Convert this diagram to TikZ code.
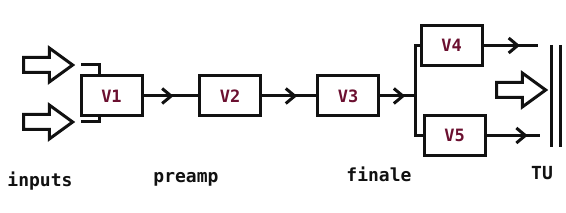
\documentclass[tikz,border=0pt]{standalone}
\usepackage{fontspec}
\setmonofont{DejaVu Sans Mono}
\usetikzlibrary{arrows.meta,calc,shapes.arrows,decorations.markings}
\definecolor{ink}{HTML}{111111}
\definecolor{maroon}{HTML}{6B1030}
\tikzset{
  stage/.style={draw=ink,line width=3pt,minimum width=61pt,minimum height=40pt,inner sep=0pt,
                font=\ttfamily\bfseries\fontsize{17}{18}\selectfont,text=maroon},
  signal/.style={single arrow,draw=ink,line width=3pt,inner xsep=0pt,inner ysep=6pt,
                 minimum height=49pt,single arrow head extend=9.5pt,single arrow tip angle=72,
                 single arrow head indent=0pt},
  wire/.style={draw=ink,line width=3pt},
  midarrow/.style={wire,postaction={decorate},
                   decoration={markings,mark=at position #1 with {\arrow{Straight Barb[length=9pt,width=15pt]}}}},
  caption/.style={anchor=base,font=\ttfamily\bfseries\fontsize{18}{20}\selectfont,text=ink},
  plate/.style={draw=ink,line width=3pt}
}
\begin{document}
\begin{tikzpicture}[x=1pt,y=-1pt]
    \useasboundingbox[fill=white] (0,0) rectangle (566,213);
    % input signals
    \node[signal] (in1) at (43,65) {};
    \node[signal] (in2) at (43,122) {};
    % amplifier stages
    \node[stage] (V1) at (111.5,96) {V1};
    \node[stage] (V2) at (230,96) {V2};
    \node[stage] (V3) at (348,96) {V3};
    \node[stage] (V4) at (451.5,45.5) {V4};
    \node[stage] (V5) at (454.5,135.5) {V5};
    \coordinate (bus) at (415,96);
    \coordinate (o4) at (538,45.5);
    \coordinate (o5) at (540,135.5);
    % output transformer
    \node[signal] (tu) at (516,90) {};
    \draw[plate] (551,45) -- (551,147);
    \draw[plate] (560,45) -- (560,147);
    % wiring
    \draw[wire] ([xshift=6pt]in1.tip) -| ([xshift=20pt]V1.north west);
    \draw[wire] ([xshift=6pt]in2.tip) -| ([xshift=20pt]V1.south west);
    \draw[midarrow=0.55] (V1) -- (V2);
    \draw[midarrow=0.65] (V2) -- (V3);
    \draw[midarrow=0.72] (V3) -- (bus);
    \draw[wire] (V4.west) -| (bus) |- (V5.west);
    \draw[midarrow=0.67] (V4.east) -- (o4);
    \draw[midarrow=0.77] (V5.east) -- (o5);
    % captions
    \node[caption] (lin) at (40,187) {inputs};
    \node[caption] (lpre) at (186,183) {preamp};
    \node[caption] (lfin) at (379,182) {finale};
    \node[caption] (ltu) at (542,180) {TU};
\end{tikzpicture}
\end{document}
